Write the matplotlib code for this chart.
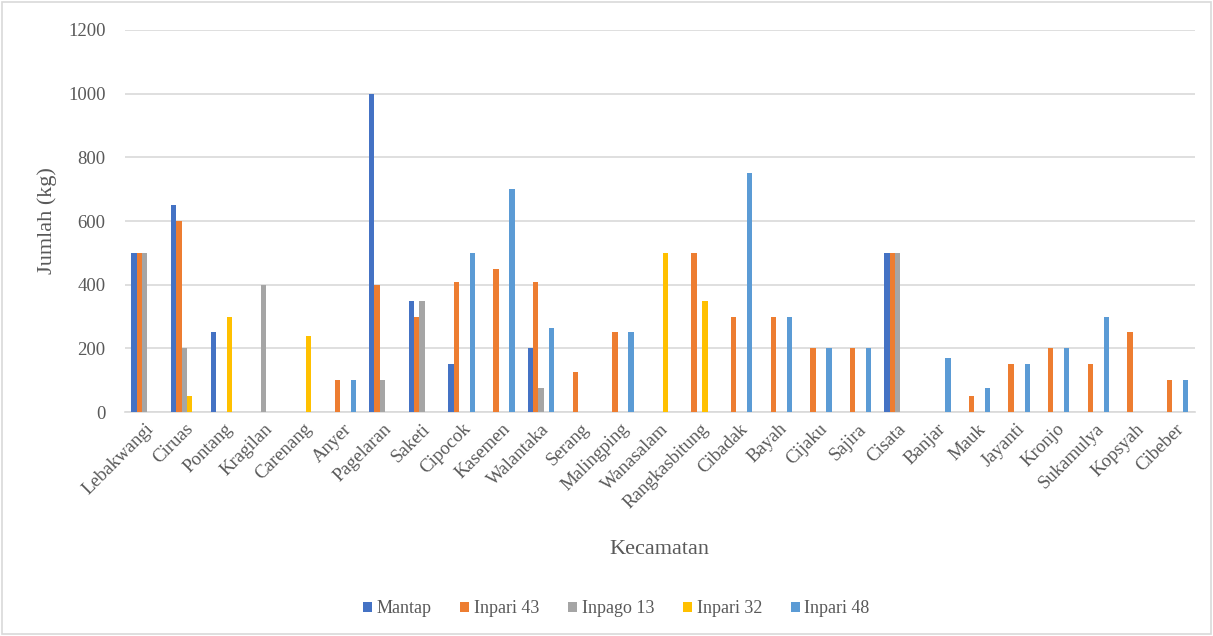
import numpy as np
import matplotlib
matplotlib.use('Agg')
import matplotlib.pyplot as plt
from matplotlib.patches import Rectangle

kecamatan = ['Lebakwangi', 'Ciruas', 'Pontang', 'Kragilan', 'Carenang', 'Anyer',
             'Pagelaran', 'Saketi', 'Cipocok', 'Kasemen', 'Walantaka', 'Serang',
             'Malingping', 'Wanasalam', 'Rangkasbitung', 'Cibadak', 'Bayah',
             'Cijaku', 'Sajira', 'Cisata', 'Banjar', 'Mauk', 'Jayanti', 'Kronjo',
             'Sukamulya', 'Kopsyah', 'Cibeber']

mantap    = [500, 650, 250, 0, 0, 0, 1000, 350, 150, 0, 200, 0, 0, 0, 0, 0, 0,
             0, 0, 500, 0, 0, 0, 0, 0, 0, 0]
inpari43  = [500, 600, 0, 0, 0, 100, 400, 300, 410, 450, 410, 125, 250, 0, 500,
             300, 300, 200, 200, 500, 0, 50, 150, 200, 150, 250, 100]
inpago13  = [500, 200, 0, 400, 0, 0, 100, 350, 0, 0, 75, 0, 0, 0, 0, 0, 0,
             0, 0, 500, 0, 0, 0, 0, 0, 0, 0]
inpari32  = [0, 50, 300, 0, 240, 0, 0, 0, 0, 0, 0, 0, 0, 500, 350, 0, 0,
             0, 0, 0, 0, 0, 0, 0, 0, 0, 0]
inpari48  = [0, 0, 0, 0, 0, 100, 0, 0, 500, 700, 265, 0, 250, 0, 0, 750, 300,
             200, 200, 0, 170, 75, 150, 200, 300, 0, 100]

series = [('Mantap', mantap, '#4472C4'),
          ('Inpari 43', inpari43, '#ED7D31'),
          ('Inpago 13', inpago13, '#A5A5A5'),
          ('Inpari 32', inpari32, '#FFC000'),
          ('Inpari 48', inpari48, '#5B9BD5')]

plt.rcParams['font.family'] = ['Liberation Serif', 'DejaVu Serif']
txt = '#595959'

fig = plt.figure(figsize=(12.13, 6.36), dpi=100)
ax = fig.add_axes([0.103, 0.352, 0.882, 0.601])

x = np.arange(len(kecamatan))
w = 0.135
for i, (nama, vals, col) in enumerate(series):
    ax.bar(x + (i - 2) * w, vals, width=w, color=col, label=nama, zorder=3)

ax.set_xlim(-0.5, len(kecamatan) - 0.5)
ax.set_ylim(0, 1200)
ax.set_yticks(range(0, 1201, 200))
ax.grid(axis='y', color='#d9d9d9', linewidth=1.2, zorder=0)
for s in ['top', 'right', 'left']:
    ax.spines[s].set_visible(False)
ax.spines['bottom'].set_color('#d9d9d9')
ax.spines['bottom'].set_linewidth(1.2)
ax.tick_params(axis='both', length=0, colors=txt, labelsize=13.5)
ax.tick_params(axis='y', pad=14)
ax.tick_params(axis='x', pad=6)

ax.set_xticks(x)
ax.set_xticklabels(kecamatan, rotation=45, ha='right', rotation_mode='anchor')

ax.set_ylabel('Jumlah (kg)', fontsize=16, color=txt, labelpad=8)
ax.set_xlabel('Kecamatan', fontsize=16, color=txt, labelpad=20)

fig.legend(loc='center', bbox_to_anchor=(0.508, 0.043), ncol=5, frameon=False,
           fontsize=13, handlelength=0.5, handleheight=0.5, handletextpad=0.25,
           columnspacing=1.6, labelcolor=txt)

# thin frame round the whole figure
fig.patches.append(Rectangle((0.002, 0.003), 0.996, 0.994, transform=fig.transFigure,
                             fill=False, edgecolor='#d9d9d9', linewidth=1.2))

fig.savefig('out.png', dpi=100)
